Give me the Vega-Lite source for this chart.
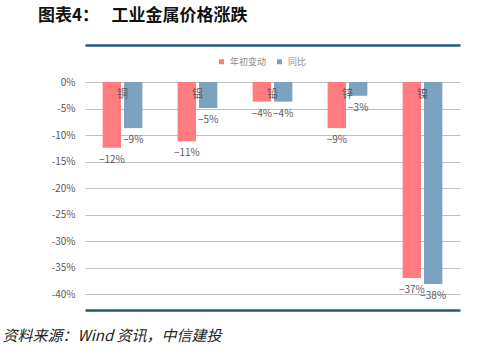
{
  "$schema": "https://vega.github.io/schema/vega-lite/v6.json",
  "width": 375,
  "height": 212,
  "autosize": {"type": "none"},
  "padding": {"left": 85, "top": 82, "right": 40, "bottom": 64},
  "background": "white",
  "config": {
    "view": {"stroke": null},
    "font": "Noto Sans CJK SC"
  },
  "title": {
    "text": "图表4：　    工业金属价格涨跌",
    "anchor": "start",
    "frame": "group",
    "dx": -47,
    "offset": 20,
    "fontSize": 17,
    "fontWeight": "bold",
    "color": "#111111",
    "font": "Noto Sans CJK SC"
  },
  "data": {
    "values": [
      {"metal": "铜", "series": "年初变动", "value": -12.4},
      {"metal": "铜", "series": "同比", "value": -8.7},
      {"metal": "铝", "series": "年初变动", "value": -11.2},
      {"metal": "铝", "series": "同比", "value": -4.9},
      {"metal": "铅", "series": "年初变动", "value": -3.7},
      {"metal": "铅", "series": "同比", "value": -3.7},
      {"metal": "锌", "series": "年初变动", "value": -8.7},
      {"metal": "锌", "series": "同比", "value": -2.6},
      {"metal": "镍", "series": "年初变动", "value": -37.0},
      {"metal": "镍", "series": "同比", "value": -38.1}
    ]
  },
  "transform": [
    {"calculate": "'−' + format(abs(datum.value), '.0f') + '%'", "as": "label"}
  ],
  "encoding": {
    "y": {
      "field": "value",
      "type": "quantitative",
      "scale": {"domain": [-40, 0], "nice": false},
      "axis": {
        "values": [0, -5, -10, -15, -20, -25, -30, -35, -40],
        "labelExpr": "datum.value + '%'",
        "labelOverlap": false,
        "title": null,
        "domain": false,
        "ticks": false,
        "labelPadding": 10,
        "labelFontSize": 10,
        "labelColor": "#595959",
        "gridColor": "#bfbfbf",
        "gridWidth": 1
      }
    }
  },
  "resolve": {"axis": {"x": "independent"}},
  "layer": [
    {
      "mark": {"type": "bar"},
      "encoding": {
        "x": {
          "field": "metal",
          "type": "nominal",
          "sort": ["铜", "铝", "铅", "锌", "镍"],
          "scale": {"paddingInner": 0.47, "paddingOuter": 0.235},
          "axis": {
            "orient": "bottom",
            "offset": 16,
            "labels": false,
            "ticks": false,
            "domain": true,
            "domainColor": "#1f5a7a",
            "domainWidth": 2.5,
            "title": "资料来源：Wind 资讯，中信建投",
            "titleAnchor": "start",
            "titleX": -83,
            "titleY": 18,
            "titleFont": "Noto Sans CJK SC",
            "titleFontSize": 15,
            "titleFontStyle": "italic",
            "titleFontWeight": "normal",
            "titleColor": "#222222"
          }
        },
        "xOffset": {
          "field": "series",
          "type": "nominal",
          "sort": ["年初变动", "同比"],
          "scale": {"paddingInner": 0.14}
        },
        "color": {
          "field": "series",
          "type": "nominal",
          "sort": ["年初变动", "同比"],
          "scale": {"domain": ["年初变动", "同比"], "range": ["#ff7c80", "#7ba3bf"]},
          "legend": {
            "orient": "none",
            "legendX": 132,
            "legendY": -25,
            "direction": "horizontal",
            "title": null,
            "symbolType": "square",
            "symbolSize": 25,
            "labelFontSize": 9,
            "labelColor": "#8c8c8c",
            "columnPadding": 8
          }
        }
      }
    },
    {
      "mark": {"type": "text", "baseline": "top", "dy": 7, "fontSize": 10, "color": "#595959"},
      "encoding": {
        "x": {
          "field": "metal",
          "type": "nominal",
          "sort": ["铜", "铝", "铅", "锌", "镍"],
          "axis": {
            "orient": "top",
            "offset": 37,
            "labels": false,
            "ticks": false,
            "domain": true,
            "domainColor": "#1f5a7a",
            "domainWidth": 2.5,
            "title": null
          }
        },
        "xOffset": {
          "field": "series",
          "type": "nominal",
          "sort": ["年初变动", "同比"]
        },
        "text": {"field": "label"}
      }
    },
    {
      "transform": [{"filter": "datum.series === '年初变动'"}],
      "mark": {"type": "text", "fontSize": 11, "color": "#595959", "baseline": "middle", "align": "center"},
      "encoding": {
        "x": {"field": "metal", "type": "nominal", "sort": ["铜", "铝", "铅", "锌", "镍"], "bandPosition": 0.5, "axis": null},
        "y": {"datum": -2.5},
        "text": {"field": "metal"}
      }
    }
  ]
}
